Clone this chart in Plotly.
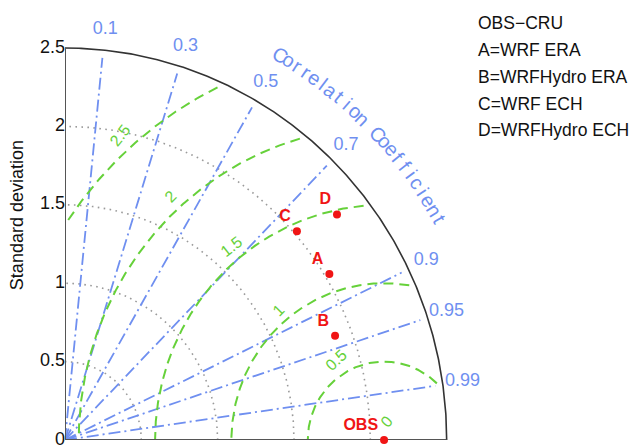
import numpy as np
import plotly.graph_objects as go

# ---------------- data ----------------
model_names = ["OBS", "A", "B", "C", "D"]
model_std = [2.09, 2.03, 1.89, 2.02, 2.29]
model_corr = [1.0, 0.853, 0.936, 0.752, 0.778]
legend_lines = ["OBS−CRU", "A=WRF ERA", "B=WRFHydro ERA", "C=WRF ECH", "D=WRFHydro ECH"]

corr_ticks = [0.1, 0.3, 0.5, 0.7, 0.9, 0.95, 0.99]
corr_tick_labels = ["0.1", "0.3", "0.5", "0.7", "0.9", "0.95", "0.99"]
std_arcs = [0.5, 1.0, 1.5, 2.0]
std_ticks = [0, 0.5, 1, 1.5, 2, 2.5]
std_tick_labels = ["0", "0.5", "1", "1.5", "2", "2.5"]
rms_levels = [0.5, 1.0, 1.5, 2.0, 2.5]
rms_label_levels = [0, 0.5, 1.0, 1.5, 2.0, 2.5]
rms_label_text = ["0", "0.5", "1", "1.5", "2", "2.5"]
std_max = 2.5
y_title = "Standard deviation"
corr_title = "Correlation Coefficient"

# ---------------- styles ----------------
FONT = "Liberation Sans, Arial, Helvetica, sans-serif"
BLUE = "#6f8ff0"
GREEN = "#66d13a"
GRAY = "#9a9a9a"
RED = "#f01515"

fig = go.Figure()

# std arcs (gray dotted)
phi = np.linspace(0, np.pi / 2, 300)
for s in std_arcs:
    fig.add_trace(go.Scatter(x=s * np.cos(phi), y=s * np.sin(phi), mode="lines",
                             line=dict(color=GRAY, width=1.6, dash="1.6px,4.4px"),
                             hoverinfo="skip", showlegend=False))

# correlation lines (blue dash-dot)
for c in corr_ticks:
    t = np.arccos(c)
    fig.add_trace(go.Scatter(x=[0, 2.45 * np.cos(t)], y=[0, 2.45 * np.sin(t)], mode="lines",
                             line=dict(color=BLUE, width=1.8, dash="12px,4px,2px,4px"),
                             hoverinfo="skip", showlegend=False))

# RMS arcs (green dashed) centred on OBS
obs_std = model_std[0]
th = np.linspace(0, np.pi, 1441)
for r in rms_levels:
    x = obs_std + r * np.cos(th)
    y = r * np.sin(th)
    m = (x ** 2 + y ** 2 <= (std_max * 0.985) ** 2) & (x >= 0)
    fig.add_trace(go.Scatter(x=x[m], y=y[m], mode="lines",
                             line=dict(color=GREEN, width=2, dash="10px,6px"),
                             hoverinfo="skip", showlegend=False))

# outer arc and axes
fig.add_trace(go.Scatter(x=std_max * np.cos(phi), y=std_max * np.sin(phi), mode="lines",
                         line=dict(color="#333333", width=1.6), hoverinfo="skip", showlegend=False))
fig.add_trace(go.Scatter(x=[0, 0, std_max], y=[std_max, 0, 0], mode="lines",
                         line=dict(color="#555555", width=2), hoverinfo="skip", showlegend=False))

# std tick labels (left of the y axis)
fig.add_trace(go.Scatter(x=[0] * len(std_ticks), y=std_ticks, mode="text",
                         text=std_tick_labels, textposition="middle left",
                         textfont=dict(color="#111111", size=18, family=FONT),
                         cliponaxis=False, hoverinfo="skip", showlegend=False))

# correlation tick labels
lab_r = 2.63
ang = np.arccos(corr_ticks)
fig.add_trace(go.Scatter(x=lab_r * np.cos(ang), y=lab_r * np.sin(ang), mode="text",
                         text=corr_tick_labels, textposition="middle center",
                         textfont=dict(color=BLUE, size=18, family=FONT),
                         cliponaxis=False, hoverinfo="skip", showlegend=False))

# model points
mx = [s * c for s, c in zip(model_std, model_corr)]
my = [s * np.sqrt(max(0.0, 1 - c * c)) for s, c in zip(model_std, model_corr)]
fig.add_trace(go.Scatter(x=mx, y=my, mode="markers+text", text=model_names,
                         textposition="top left",
                         textfont=dict(color=RED, size=16, family=FONT, weight="bold"),
                         marker=dict(color=RED, size=8),
                         cliponaxis=False, hoverinfo="skip", showlegend=False))

annotations = []

# RMS labels
rms_lab_pos = {0: (82, 0.12, -50), 0.5: (122, 0.6, -43), 1.0: (130, 1.08, -45),
               1.5: (129, 1.59, -38), 2.0: (132, 2.09, -45), 2.5: (131.7, 2.6, -52)}
for lev, txt in zip(rms_label_levels, rms_label_text):
    a, rr, rot = rms_lab_pos[lev]
    annotations.append(dict(x=obs_std + rr * np.cos(np.radians(a)), y=rr * np.sin(np.radians(a)),
                            xref="x", yref="y", text=txt, showarrow=False, textangle=rot,
                            font=dict(color=GREEN, size=16, family=FONT)))

# curved "Correlation Coefficient"
n = len(corr_title)
a0, a1 = 60.2, 29.9
for i, ch in enumerate(corr_title):
    if ch == " ":
        continue
    a = a0 + (a1 - a0) * i / (n - 1)
    annotations.append(dict(x=2.83 * np.cos(np.radians(a)), y=2.83 * np.sin(np.radians(a)),
                            xref="x", yref="y", text=ch, showarrow=False, textangle=90 - a,
                            font=dict(color=BLUE, size=20, family=FONT)))

# y title
annotations.append(dict(x=-0.105, y=0.512, xref="paper", yref="paper", text=y_title,
                        showarrow=False, textangle=-90, xanchor="center", yanchor="middle",
                        font=dict(color="#111111", size=18, family=FONT)))

# legend text
leg_y = [23, 50, 77, 104, 130]
for txt, py in zip(legend_lines, leg_y):
    annotations.append(dict(x=(476 - 65) / 458.4, y=(440 - py) / 439, xref="paper", yref="paper",
                            text=txt, showarrow=False, xanchor="left", yanchor="middle",
                            font=dict(color="#111111", size=17.5, family=FONT)))

fig.update_layout(
    width=632, height=447, autosize=False,
    margin=dict(l=65, r=108.6, t=1, b=7, pad=0),
    paper_bgcolor="white", plot_bgcolor="white",
    showlegend=False,
    annotations=annotations,
    xaxis=dict(range=[0, 3.0], showgrid=False, zeroline=False, showline=False,
               showticklabels=False, ticks="", fixedrange=True),
    yaxis=dict(range=[0, 2.8], showgrid=False, zeroline=False, showline=False,
               showticklabels=False, ticks="", fixedrange=True),
)

fig.write_html("out.html", config={"displayModeBar": False},
               post_script="document.body.style.margin='0';document.body.style.overflow='hidden';")
